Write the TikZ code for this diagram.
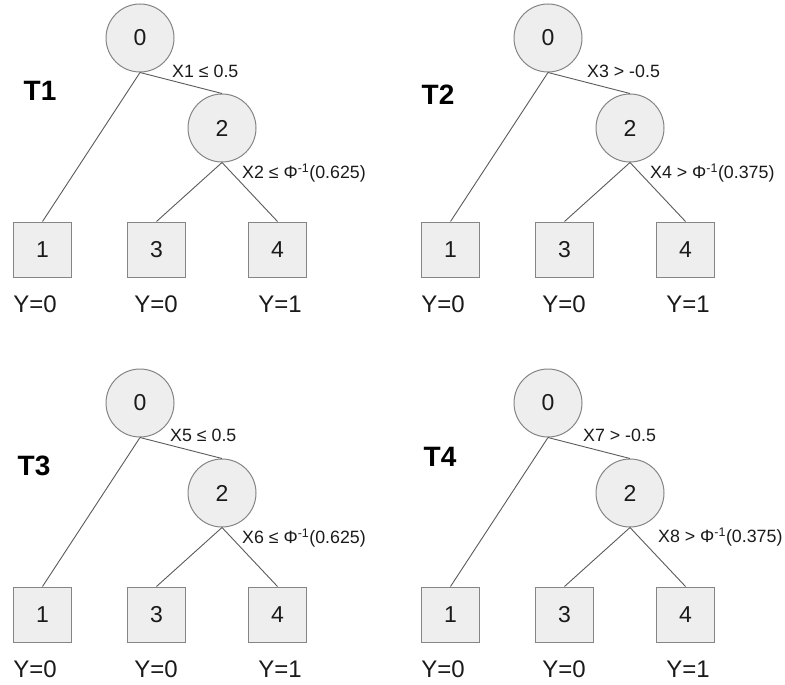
\documentclass[tikz,border=0pt]{standalone}
\usepackage{fontspec}
\setmainfont{Liberation Sans}
\definecolor{nodefill}{HTML}{EEEEEE}
\definecolor{nodeline}{HTML}{858585}
\definecolor{edgeline}{HTML}{5A5A5A}
\definecolor{txt}{HTML}{1A1A1A}
\tikzset{
  innernode/.style={circle, draw=nodeline, fill=nodefill, minimum size=68pt, inner sep=0pt,
    line width=1pt, text=txt, font=\fontsize{23}{23}\selectfont},
  leafnode/.style={rectangle, draw=nodeline, fill=nodefill, minimum width=58pt, minimum height=55pt,
    inner sep=0pt, line width=1pt, text=txt, font=\fontsize{23}{23}\selectfont},
  treeedge/.style={draw=edgeline, line width=0.9pt},
  condlab/.style={anchor=west, inner sep=0pt, text=txt, font=\fontsize{17.8}{17.8}\selectfont},
  ylab/.style={inner sep=0pt, text=txt, font=\fontsize{24}{24}\selectfont},
  tlab/.style={inner sep=0pt, text=black, font=\bfseries\fontsize{28}{28}\selectfont}
}
\newcommand\drawtree[8]{%
  \begin{scope}[shift={#2}]
    \node[tlab] (#1t) at #3 {#4};
    \node[innernode] (#1c0) at (140,38) {0};
    \node[innernode] (#1c2) at (222,128) {2};
    \node[leafnode] (#1l1) at (42.5,249.5) {1};
    \node[leafnode] (#1l3) at (156.5,249.5) {3};
    \node[leafnode] (#1l4) at (277.5,249.5) {4};
    \node[ylab] (#1y1) at (35,304) {Y=0};
    \node[ylab] (#1y3) at (156,304) {Y=0};
    \node[ylab] (#1y4) at (280,304) {Y=1};
    \draw[treeedge] (#1c0.south) -- (#1l1.north);
    \draw[treeedge] (#1c0.south) -- (#1c2.north);
    \draw[treeedge] (#1c2.south) -- (#1l3.north);
    \draw[treeedge] (#1c2.south) -- (#1l4.north);
    \node[condlab] (#1e1) at #5 {#6};
    \node[condlab] (#1e2) at #7 {#8};
  \end{scope}}
\begin{document}
\begin{tikzpicture}[x=1pt, y=-1pt]
  \useasboundingbox (0,0) rectangle (785,685);
  \drawtree{a}{(0,0)}{(40,91)}{T1}{(172,71)}{X1 ≤ 0.5}{(242,173)}{X2 ≤ Φ\textsuperscript{-1}(0.625)}
  \drawtree{b}{(408,0)}{(30,95)}{T2}{(179,71)}{X3 > -0.5}{(242,173)}{X4 > Φ\textsuperscript{-1}(0.375)}
  \drawtree{c}{(0,365)}{(34,101)}{T3}{(170,70)}{X5 ≤ 0.5}{(242,173)}{X6 ≤ Φ\textsuperscript{-1}(0.625)}
  \drawtree{d}{(408,365)}{(32,92)}{T4}{(175,70)}{X7 > -0.5}{(250,172)}{X8 > Φ\textsuperscript{-1}(0.375)}
\end{tikzpicture}
\end{document}
